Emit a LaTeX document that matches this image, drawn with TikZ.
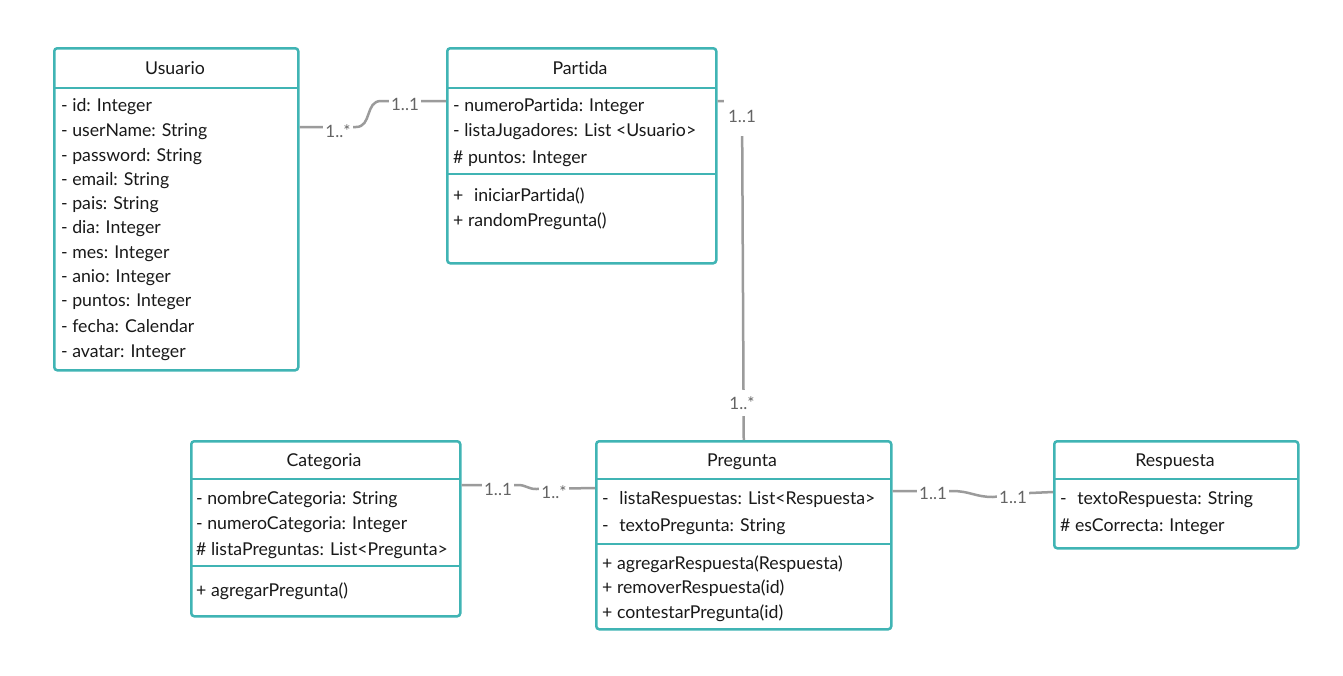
\documentclass[tikz,border=0pt]{standalone}
\usepackage{fontspec}
\setmainfont{Lato}[Ligatures={NoCommon}]
\usetikzlibrary{calc}
\definecolor{tealb}{RGB}{64,180,180}
\definecolor{connc}{RGB}{155,155,155}
\definecolor{txtc}{RGB}{25,25,25}
\definecolor{lblc}{RGB}{100,100,100}
\tikzset{
  cls/.style={draw=tealb, line width=2.5pt, rounded corners=3pt, fill=white, inner sep=0pt, anchor=north west},
  divl/.style={draw=tealb, line width=2.5pt},
  attr/.style={anchor=west, inner sep=0pt, yshift=-1.5pt, font=\fontsize{17.7}{20}\selectfont, text=txtc},
  ttl/.style={anchor=center, inner sep=0pt, font=\fontsize{17.7}{20}\selectfont, text=txtc},
  conn/.style={draw=connc, line width=2.5pt},
  lab/.style={fill=white, inner sep=2.5pt, font=\fontsize{17}{19}\selectfont, text=lblc}
}
\begin{document}
\begin{tikzpicture}[x=1pt,y=-1pt]
\useasboundingbox[fill=white] (0,0) rectangle (1343,675);

% ---------- Usuario ----------
\node[cls, minimum width=244pt, minimum height=322pt] (usuario) at (53,47) {};
\draw[divl] (53,88) -- (297,88);
\node[ttl] (usuarioT) at (175,68) {Usuario};
\node[attr] (u1) at (61,105) {- id: Integer};
\node[attr] (u2) at (61,130) {- userName: String};
\node[attr] (u3) at (61,155) {- password: String};
\node[attr] (u4) at (61,179) {- email: String};
\node[attr] (u5) at (61,203) {- pais: String};
\node[attr] (u6) at (61,227) {- dia: Integer};
\node[attr] (u7) at (61,252) {- mes: Integer};
\node[attr] (u8) at (61,276) {- anio: Integer};
\node[attr] (u9) at (61,300) {- puntos: Integer};
\node[attr] (u10) at (61,325) {- fecha: Calendar};
\node[attr] (u11) at (61,351) {- avatar: Integer};

% ---------- Partida ----------
\node[cls, minimum width=269pt, minimum height=215pt] (partida) at (446,47) {};
\draw[divl] (446,88) -- (715,88);
\draw[divl] (446,174) -- (715,174);
\node[ttl] (partidaT) at (580,68) {Partida};
\node[attr] (p1) at (453,105) {- numeroPartida: Integer};
\node[attr] (p2) at (453,130) {- listaJugadores: List <Usuario>};
\node[attr] (p3) at (453,157) {\# puntos: Integer};
\node[attr] (p4) at (453,194) {+\hspace{0.6em}iniciarPartida()};
\node[attr] (p5) at (453,220) {+ randomPregunta()};

% ---------- Categoria ----------
\node[cls, minimum width=269pt, minimum height=175pt] (categoria) at (190,440) {};
\draw[divl] (190,479) -- (459,479);
\draw[divl] (190,566) -- (459,566);
\node[ttl] (categoriaT) at (324,462) {Categoria};
\node[attr] (c1) at (196,498) {- nombreCategoria: String};
\node[attr] (c2) at (196,523) {- numeroCategoria: Integer};
\node[attr] (c3) at (196,549) {\# listaPreguntas: List<Pregunta>};
\node[attr] (c4) at (196,590) {+ agregarPregunta()};

% ---------- Pregunta ----------
\node[cls, minimum width=295pt, minimum height=188pt] (pregunta) at (595,440) {};
\draw[divl] (595,479) -- (890,479);
\draw[divl] (595,544) -- (890,544);
\node[ttl] (preguntaT) at (742,462) {Pregunta};
\node[attr] (q1) at (602,498) {-\hspace{0.6em}listaRespuestas: List<Respuesta>};
\node[attr] (q2) at (602,525) {-\hspace{0.6em}textoPregunta: String};
\node[attr] (q3) at (602,563) {+ agregarRespuesta(Respuesta)};
\node[attr] (q4) at (602,587) {+ removerRespuesta(id)};
\node[attr] (q5) at (602,612) {+ contestarPregunta(id)};

% ---------- Respuesta ----------
\node[cls, minimum width=244pt, minimum height=107pt] (respuesta) at (1053,440) {};
\draw[divl] (1053,479) -- (1297,479);
\node[ttl] (respuestaT) at (1175,462) {Respuesta};
\node[attr] (r1) at (1060,498) {-\hspace{0.6em}textoRespuesta: String};
\node[attr] (r2) at (1060,525) {\# esCorrecta: Integer};

% ---------- Connectors ----------
% Usuario -- Partida
\draw[conn] ($(usuario.north east)+(0,80)$) -- (356,127)
  .. controls (372,127) and (365,101) .. (381,101) -- ($(partida.north west)+(0,54)$);
\node[lab] (l1) at (338,131) {1..*};
\node[lab] (l2) at (405,104) {1..1};

% Partida -- Pregunta
\draw[conn] ($(partida.north east)+(0,54)$) -- (742,101) -- (pregunta.north);
\node[lab, minimum width=36pt, minimum height=40pt] (l3) at (742,116) {1..1};
\node[lab, minimum height=26pt] (l4) at (742,403) {1..*};

% Categoria -- Pregunta
\draw[conn] ($(categoria.north east)+(0,45)$) -- (518,485)
  .. controls (526,485) and (528,489) .. (536,489) -- ($(pregunta.north west)+(0,48)$);
\node[lab] (l5) at (498,489) {1..1};
\node[lab] (l6) at (554,492) {1..*};

% Pregunta -- Respuesta
\draw[conn] ($(pregunta.north east)+(0,51)$) -- (952,491)
  .. controls (970,491) and (975,497) .. (993,497) -- (1030,493) -- ($(respuesta.north west)+(0,52)$);
\node[lab] (l7) at (933,493) {1..1};
\node[lab] (l8) at (1013,497) {1..1};
\end{tikzpicture}
\end{document}
